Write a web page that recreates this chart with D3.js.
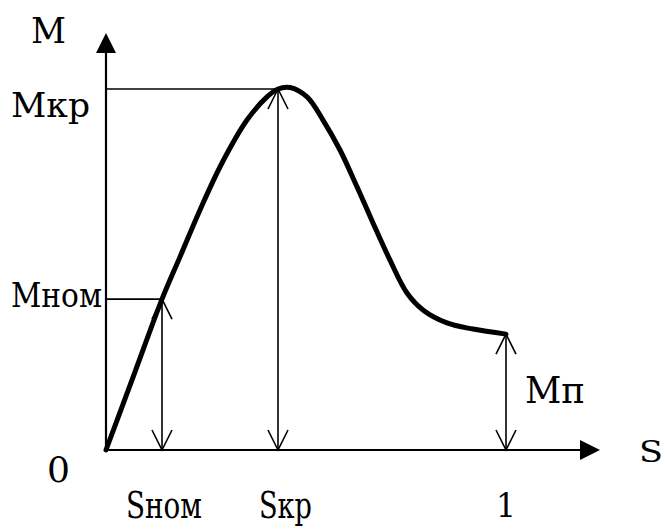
<!DOCTYPE html>
<html>
<head>
<meta charset="utf-8">
<script src="https://cdn.jsdelivr.net/npm/d3@7"></script>
<style>
  body { margin: 0; background: #fff; }
  svg text { font-family: "DejaVu Serif", "Liberation Serif", "Noto Serif", serif; }
</style>
</head>
<body>
<svg id="chart" width="665" height="529"></svg>
<script>
// Torque / slip curve of an induction motor

// curve (slip s, torque M relative to Mкр)
var slip   = [0, 0.07, 0.14, 0.185, 0.235, 0.29, 0.3525, 0.4025, 0.43, 0.46, 0.5025, 0.5425, 0.585, 0.6275, 0.6675, 0.71, 0.7525, 0.7925, 0.8525, 0.9175, 1.0];
var torque = [0, 0.209, 0.418, 0.535, 0.665, 0.795, 0.914, 0.978, 1.0, 1.004, 0.978, 0.914, 0.831, 0.729, 0.629, 0.526, 0.435, 0.388, 0.352, 0.335, 0.321];

// marked points
var sNom = 0.14, sKr = 0.43, sStart = 1;
var mNom = 0.418, mKr = 1.0, mStart = 0.321;
var sAxisEnd = 1.235, mAxisEnd = 1.155;

var svg = d3.select("#chart");

var x = d3.scaleLinear().domain([0, 1]).range([106, 506]);
var y = d3.scaleLinear().domain([0, 1]).range([450, 89]);

var ah = 20, aw = 10; // filled axis arrow: length, half width
var vl = 20, vw = 10; // open arrow heads

// axes
svg.append("line")
  .attr("x1", x(0)).attr("y1", y(0))
  .attr("x2", x(0)).attr("y2", y(mAxisEnd) + ah)
  .attr("stroke", "#000").attr("stroke-width", 2.2);
svg.append("path")
  .attr("d", "M" + x(0) + "," + y(mAxisEnd) + "L" + (x(0) - aw) + "," + (y(mAxisEnd) + ah) + "L" + (x(0) + aw) + "," + (y(mAxisEnd) + ah) + "Z")
  .attr("fill", "#000");

svg.append("line")
  .attr("x1", x(0)).attr("y1", y(0))
  .attr("x2", x(sAxisEnd) - ah).attr("y2", y(0))
  .attr("stroke", "#000").attr("stroke-width", 2.2);
svg.append("path")
  .attr("d", "M" + x(sAxisEnd) + "," + y(0) + "L" + (x(sAxisEnd) - ah) + "," + (y(0) - aw) + "L" + (x(sAxisEnd) - ah) + "," + (y(0) + aw) + "Z")
  .attr("fill", "#000");

// horizontal guides to M axis
[[mKr, sKr], [mNom, sNom]].forEach(function (d) {
  svg.append("line")
    .attr("x1", x(0)).attr("y1", y(d[0]))
    .attr("x2", x(d[1])).attr("y2", y(d[0]))
    .attr("stroke", "#000").attr("stroke-width", 1.6);
});

// double headed vertical arrows
var dbl = [[sNom, mNom], [sKr, mKr], [sStart, mStart]];
dbl.forEach(function (d) {
  var cx = x(d[0]), top = y(d[1]), bot = y(0);
  svg.append("line")
    .attr("x1", cx).attr("y1", top).attr("x2", cx).attr("y2", bot)
    .attr("stroke", "#000").attr("stroke-width", 1.6);
  svg.append("path")
    .attr("d", "M" + (cx - vw) + "," + (top + vl) + "L" + cx + "," + top + "L" + (cx + vw) + "," + (top + vl) +
               "M" + (cx - vw) + "," + (bot - vl) + "L" + cx + "," + bot + "L" + (cx + vw) + "," + (bot - vl))
    .attr("fill", "none").attr("stroke", "#000").attr("stroke-width", 1.6);
});

// the curve
var line = d3.line()
  .x(function (d, i) { return x(slip[i]); })
  .y(function (d, i) { return y(torque[i]); })
  .curve(d3.curveCatmullRom.alpha(0.5));

svg.append("path")
  .attr("d", line(slip))
  .attr("fill", "none").attr("stroke", "#000")
  .attr("stroke-width", 5).attr("stroke-linejoin", "round").attr("stroke-linecap", "round");

// labels: left x, baseline y, text, size, width to fit
var label = function (px, py, str, size, len) {
  var t = svg.append("text")
    .attr("x", px).attr("y", py)
    .style("font-size", size + "px")
    .attr("fill", "#000")
    .text(str);
  if (len) t.attr("textLength", len).attr("lengthAdjust", "spacingAndGlyphs");
  return t;
};

label(31, 43, "M", 35, 35);
label(11, 117, "Mкр", 33, 79);
label(11, 307, "Mном", 34, 91);
label(47, 482, "0", 36, 23);
label(126, 518, "Sном", 37, 76);
label(259, 518, "Sкр", 37, 53);
label(x(sStart) - 10, 517, "1", 33, 20);
label(525, 403, "Mп", 37, 60);
label(639, 462, "S", 30, 24);
</script>
</body>
</html>
